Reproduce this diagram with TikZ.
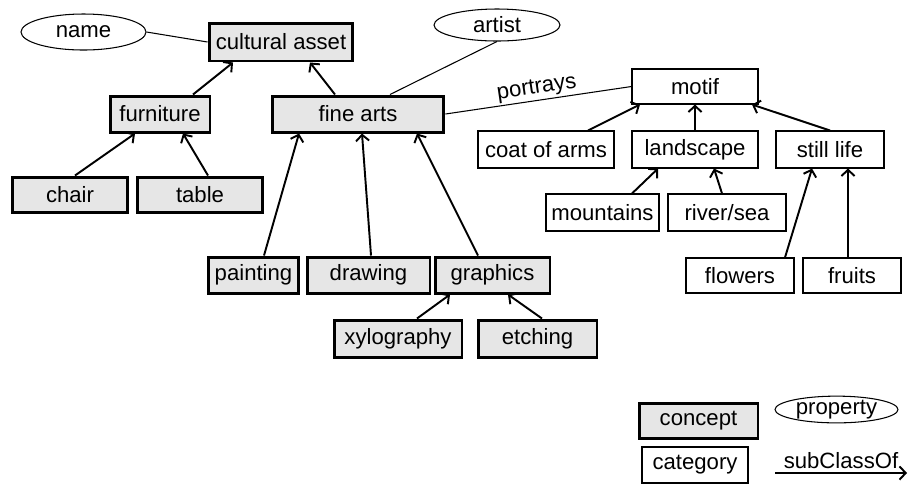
\documentclass[tikz,border=0pt]{standalone}
\usepackage{fontspec}
\setmainfont{Liberation Sans}
\usepackage{tikz}
\usetikzlibrary{arrows.meta}
\usetikzlibrary{shapes.geometric}
\definecolor{conceptGray}{HTML}{E6E6E6}

\begin{document}
\begin{tikzpicture}[x=0.02cm,y=-0.02cm,font=\fontsize{12.6}{15}\selectfont]
\tikzset{
  conceptNode/.style={
    rectangle,
                   draw,
                   fill=conceptGray,
                   line width=1.7pt,
                   inner sep=1pt,
                   minimum height=0.72cm
    },
  categoryNode/.style={
    rectangle,
                   draw,
                   line width=0.6pt,
                   inner sep=1pt,
                   minimum height=0.72cm
    },
  propertyNode/.style={
    ellipse,
                   draw,
                   line width=0.6pt,
                   inner sep=0pt
    },
  subArrow/.style={
    -{Straight Barb[length=3.5pt,width=7.5pt]},
                   line width=1.1pt
    }
}
    \useasboundingbox (0,0) rectangle (908,485);

    \node (asset)[conceptNode, minimum width=2.88cm, minimum height=0.76cm] at (281,42) {cultural asset};
    \node (name)[propertyNode, minimum width=2.5cm, minimum height=0.72cm] at (83.5,32) {name};
    \node (artist)[propertyNode, minimum width=2.52cm, minimum height=0.64cm] at (497,25) {artist};
    \node (furniture)[conceptNode, minimum width=2cm] at (160,114) {furniture};
    \node (finearts)[conceptNode, minimum width=3.44cm] at (358,114) {fine arts};
    \node (chair)[conceptNode, minimum width=2.32cm, minimum height=0.7cm] at (70,194.5) {chair};
    \node (table)[conceptNode, minimum width=2.52cm, minimum height=0.7cm] at (200,194.5) {table};
    \node (painting)[conceptNode, minimum width=1.8cm] at (253.5,275) {painting};
    \node (drawing)[conceptNode, minimum width=2.46cm] at (368.5,275) {drawing};
    \node (graphics)[conceptNode, minimum width=2.3cm] at (492.5,275) {graphics};
    \node (xylo)[conceptNode, minimum width=2.56cm, minimum height=0.74cm] at (398,338.5) {xylography};
    \node (etching)[conceptNode, minimum width=2.38cm, minimum height=0.74cm] at (537.5,338.5) {etching};

    \node (motif)[categoryNode, minimum width=2.52cm, minimum height=0.7cm] at (695,86.5) {motif};
    \node (coat)[categoryNode, minimum width=2.72cm, minimum height=0.74cm] at (546,149.5) {coat of arms};
    \node (landscape)[categoryNode, minimum width=2.52cm, minimum height=0.74cm] at (695,149.5) {landscape};
    \node (still)[categoryNode, minimum width=2.16cm, minimum height=0.74cm] at (830,149.5) {still life};
    \node (mount)[categoryNode, minimum width=2.26cm, minimum height=0.74cm] at (602.5,212.5) {mountains};
    \node (river)[categoryNode, minimum width=2.36cm, minimum height=0.74cm] at (727,212.5) {river/sea};
    \node (flowers)[categoryNode, minimum width=2.16cm, minimum height=0.7cm] at (740,275.5) {flowers};
    \node (fruits)[categoryNode, minimum width=1.96cm, minimum height=0.7cm] at (852,275.5) {fruits};

    \node (concept)[conceptNode, minimum width=2.38cm, minimum height=0.7cm] at (698.5,420.5) {concept};
    \node (category)[categoryNode, minimum width=2.12cm] at (695,465) {category};
    \node (property)[propertyNode, minimum width=2.46cm, minimum height=0.5cm] at (836.5,409.5) {property};
    \coordinate (subFrom) at (775,473);
    \coordinate (subTo) at (907,473);

    \draw[line width=0.6pt] (name.east) -- (asset.west);
    \draw[line width=0.6pt] (artist.south) -- ([xshift=0.64cm]finearts.north);
    \draw[line width=0.6pt] (finearts.east) -- node[above, sloped, inner sep=1pt] {portrays} (motif.west);

    \draw[subArrow] ([xshift=0.66cm]furniture.north) -- ([xshift=-0.96cm]asset.south);
    \draw[subArrow] ([xshift=-0.46cm]finearts.north) -- ([xshift=0.58cm]asset.south);
    \draw[subArrow] ([xshift=0.1cm]chair.north) -- ([xshift=-0.5cm]furniture.south);
    \draw[subArrow] ([xshift=0.16cm]table.north) -- ([xshift=0.46cm]furniture.south);
    \draw[subArrow] ([xshift=0.21cm]painting.north) -- ([xshift=-1.18cm]finearts.south);
    \draw[subArrow] ([xshift=0.05cm]drawing.north) -- ([xshift=0.08cm]finearts.south);
    \draw[subArrow] ([xshift=-0.29cm]graphics.north) -- ([xshift=1.18cm]finearts.south);
    \draw[subArrow] ([xshift=0.38cm]xylo.north) -- ([xshift=-0.85cm]graphics.south);
    \draw[subArrow] ([xshift=0.09cm]etching.north) -- ([xshift=0.31cm]graphics.south);
    \draw[subArrow] ([xshift=0.84cm]coat.north) -- ([xshift=-1.1cm]motif.south);
    \draw[subArrow] (landscape.north) -- (motif.south);
    \draw[subArrow] (still.north) -- ([xshift=1.14cm]motif.south);
    \draw[subArrow] ([xshift=0.59cm]mount.north) -- ([xshift=-0.74cm]landscape.south);
    \draw[subArrow] ([xshift=-0.1cm]river.north) -- ([xshift=0.38cm]landscape.south);
    \draw[subArrow] ([xshift=0.9cm]flowers.north) -- ([xshift=-0.36cm]still.south);
    \draw[subArrow] ([xshift=-0.08cm]fruits.north) -- ([xshift=0.36cm]still.south);
    \draw[subArrow] (subFrom) -- node[above, inner sep=2pt] {subClassOf} (subTo);

\end{tikzpicture}
\end{document}
